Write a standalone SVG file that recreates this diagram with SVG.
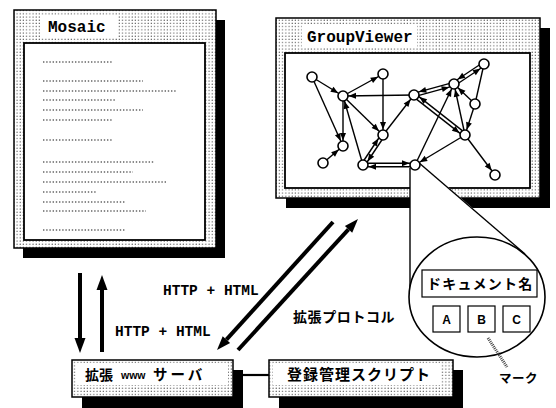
<svg xmlns="http://www.w3.org/2000/svg" width="556" height="408" viewBox="0 0 556 408">
<defs>
<pattern id="dots" width="3.2" height="3.2" patternUnits="userSpaceOnUse"><rect width="3.2" height="3.2" fill="#fff"/><circle cx="1" cy="1" r="0.6" fill="#333"/></pattern>
<marker id="ah" markerUnits="userSpaceOnUse" markerWidth="20" markerHeight="10" refX="15.5" refY="0" orient="auto" overflow="visible"><path d="M10,0 L2.5,-3 L2.5,3 z" fill="#000"/></marker>
<style>
.frame{fill:url(#dots);stroke:#000;stroke-width:1.5}
.shadow{fill:#000}
.content{fill:#fff;stroke:#000;stroke-width:1.8}
.title{font-family:"Liberation Mono",monospace;font-weight:bold;font-size:16px;fill:#000}
.ph{stroke:#666;stroke-width:1.4;stroke-dasharray:1.4 1.8}
.edge{stroke:#000;stroke-width:1.4;fill:none;marker-end:url(#ah)}
.plain{stroke:#000;stroke-width:1.4;fill:none}
.node{fill:#fff;stroke:#000;stroke-width:1.6}
.thick{stroke:#000;stroke-width:4;fill:none}
.jp{font-family:"Noto Sans CJK JP",sans-serif;font-weight:bold;fill:#000}
.mono{font-family:"Liberation Mono",monospace;font-weight:bold;font-size:14.5px;fill:#000}
.box{fill:#fff;stroke:#000;stroke-width:1.2}
.lbl{font-family:"Liberation Sans",sans-serif;font-weight:bold;font-size:12px;fill:#000}
</style>
</defs>
<rect width="556" height="408" fill="#fff"/>

<g id="mosaic">
<rect class="shadow" x="23" y="20" width="202" height="238"/>
<rect class="frame" x="14" y="10" width="202" height="238"/>
<rect x="40" y="16" width="77" height="21" fill="#fff"/>
<text class="title" x="48" y="32">Mosaic</text>
<rect class="content" x="24" y="43" width="181" height="197"/>
<g>
<line class="ph" x1="43" y1="62" x2="113" y2="62"/>
<line class="ph" x1="43" y1="81" x2="143" y2="81"/>
<line class="ph" x1="43" y1="91" x2="176" y2="91"/>
<line class="ph" x1="43" y1="100" x2="116" y2="100"/>
<line class="ph" x1="43" y1="110" x2="143" y2="110"/>
<line class="ph" x1="43" y1="120" x2="113" y2="120"/>
<line class="ph" x1="43" y1="140" x2="113" y2="140"/>
<line class="ph" x1="43" y1="162" x2="154" y2="162"/>
<line class="ph" x1="43" y1="172" x2="133" y2="172"/>
<line class="ph" x1="43" y1="182" x2="166" y2="182"/>
<line class="ph" x1="43" y1="192" x2="96" y2="192"/>
<line class="ph" x1="43" y1="202" x2="126" y2="202"/>
<line class="ph" x1="43" y1="211" x2="146" y2="211"/>
<line class="ph" x1="43" y1="230" x2="126" y2="230"/>
</g>
</g>

<g id="groupviewer">
<rect class="shadow" x="286" y="28" width="264" height="180"/>
<rect class="frame" x="276" y="18" width="264" height="180"/>
<rect x="302" y="25" width="115" height="22" fill="#fff"/>
<text class="title" x="307" y="42">GroupViewer</text>
<rect class="content" x="285" y="53" width="245" height="135"/>
</g>

<g id="magnifier">
<polygon points="410,168 419,162 526,254 410,292" fill="#fff"/>
<line class="plain" x1="410" y1="168" x2="410" y2="288" stroke-width="1.5"/>
<line class="plain" x1="418" y1="162" x2="525" y2="254" stroke-width="1.5"/>
<ellipse cx="477" cy="297" rx="68" ry="60" fill="#fff" stroke="#000" stroke-width="1.6"/>
<rect class="box" x="422" y="270" width="115" height="27"/>
<text class="jp" x="427" y="289" font-size="14" letter-spacing="1.2">ドキュメント名</text>
<rect class="box" x="433" y="306" width="27" height="26"/>
<rect class="box" x="468" y="306" width="27" height="26"/>
<rect class="box" x="503" y="306" width="27" height="26"/>
<text class="lbl" x="446.5" y="323.5" text-anchor="middle">A</text>
<text class="lbl" x="481.5" y="323.5" text-anchor="middle">B</text>
<text class="lbl" x="516.5" y="323.5" text-anchor="middle">C</text>
<line x1="488" y1="338" x2="507" y2="367" stroke="#444" stroke-width="3" stroke-dasharray="1 1"/>
<text class="jp" x="499" y="383" font-size="12.5" letter-spacing="0.5">マーク</text>
</g>

<g id="graph-edges">
<line class="edge" x1="312" y1="77" x2="343" y2="96"/>
<line class="edge" x1="312" y1="77" x2="343" y2="146"/>
<line class="edge" x1="343" y1="96" x2="343" y2="146"/>
<line class="edge" x1="343" y1="96" x2="383" y2="74"/>
<line class="edge" x1="414" y1="95" x2="343" y2="96"/>
<line class="edge" x1="383" y1="74" x2="383" y2="135"/>
<line class="edge" x1="343" y1="96" x2="383" y2="135"/>
<line class="edge" x1="363" y1="165" x2="343" y2="96"/>
<line class="edge" x1="323" y1="163" x2="343" y2="146"/>
<line class="edge" x1="383" y1="135" x2="414" y2="95"/>
<line class="edge" x1="415" y1="165" x2="454" y2="84"/>
<line class="edge" x1="465" y1="135" x2="454" y2="84"/>
<line class="edge" x1="475" y1="104" x2="454" y2="84"/>
<line class="plain" x1="484" y1="64" x2="475" y2="104"/>
<line class="edge" x1="475" y1="104" x2="465" y2="135"/>
<line class="edge" x1="465" y1="135" x2="415" y2="165"/>
<line class="edge" x1="465" y1="135" x2="495" y2="175"/>
<line class="edge" x1="384.5" y1="136" x2="364.5" y2="166"/>
<line class="edge" x1="361.5" y1="164" x2="381.5" y2="134"/>
<line class="edge" x1="363" y1="163.2" x2="415" y2="163.2"/>
<line class="edge" x1="415" y1="166.8" x2="363" y2="166.8"/>
<line class="edge" x1="414.5" y1="96.7" x2="454.5" y2="85.7"/>
<line class="edge" x1="453.5" y1="82.3" x2="413.5" y2="93.3"/>
<line class="edge" x1="455" y1="85.5" x2="485" y2="65.5"/>
<line class="edge" x1="483" y1="62.5" x2="453" y2="82.5"/>
<line class="edge" x1="412.9" y1="96.4" x2="463.9" y2="136.4"/>
<line class="edge" x1="466.1" y1="133.6" x2="415.1" y2="93.6"/>
</g>

<g id="graph-nodes">
<circle class="node" cx="312" cy="77" r="5"/>
<circle class="node" cx="343" cy="96" r="5"/>
<circle class="node" cx="383" cy="74" r="5"/>
<circle class="node" cx="414" cy="95" r="5"/>
<circle class="node" cx="454" cy="84" r="5"/>
<circle class="node" cx="484" cy="64" r="5"/>
<circle class="node" cx="475" cy="104" r="5"/>
<circle class="node" cx="343" cy="146" r="5"/>
<circle class="node" cx="383" cy="135" r="5"/>
<circle class="node" cx="465" cy="135" r="5"/>
<circle class="node" cx="323" cy="163" r="5"/>
<circle class="node" cx="363" cy="165" r="5"/>
<circle class="node" cx="415" cy="165" r="5"/>
<circle class="node" cx="495" cy="175" r="5"/>
</g>

<g id="server">
<rect class="shadow" x="82" y="370" width="161" height="38"/>
<rect class="frame" x="72" y="360" width="161" height="37"/>
<rect x="76" y="363" width="152" height="22" fill="#fff"/>
<text class="jp" x="85" y="380" font-size="14">拡張</text>
<text x="121" y="379" font-family="Liberation Sans, sans-serif" font-weight="bold" font-size="10.5">www</text>
<text class="jp" x="153" y="380" font-size="14.5" letter-spacing="3">サーバ</text>
</g>

<g id="register">
<rect class="shadow" x="279" y="370" width="184" height="38"/>
<rect class="frame" x="269" y="360" width="184" height="37"/>
<rect x="273" y="363" width="168" height="22" fill="#fff"/>
<text class="jp" x="287" y="380" font-size="15" letter-spacing="1">登録管理スクリプト</text>
</g>

<g id="connectors">
<line x1="243" y1="375" x2="269" y2="375" stroke="#000" stroke-width="2.2"/>
<line class="thick" x1="80" y1="273" x2="80" y2="340"/>
<polygon points="74.5,338 85.5,338 80,353"/>
<line class="thick" x1="102" y1="352" x2="102" y2="288"/>
<polygon points="96.5,290 107.5,290 102,275"/>
<line class="thick" x1="333" y1="222" x2="226.4" y2="339.6"/>
<polygon points="217,350 230.1,343 222.7,336.2"/>
<line class="thick" x1="238" y1="350" x2="348.5" y2="229.3"/>
<polygon points="358,219 352.2,232.7 344.9,225.9"/>
</g>

<g id="labels">
<text class="mono" x="115" y="336">HTTP + HTML</text>
<text class="mono" x="163" y="295">HTTP + HTML</text>
<text class="jp" x="293" y="322" font-size="14" letter-spacing="0.6">拡張プロトコル</text>
</g>
</svg>
